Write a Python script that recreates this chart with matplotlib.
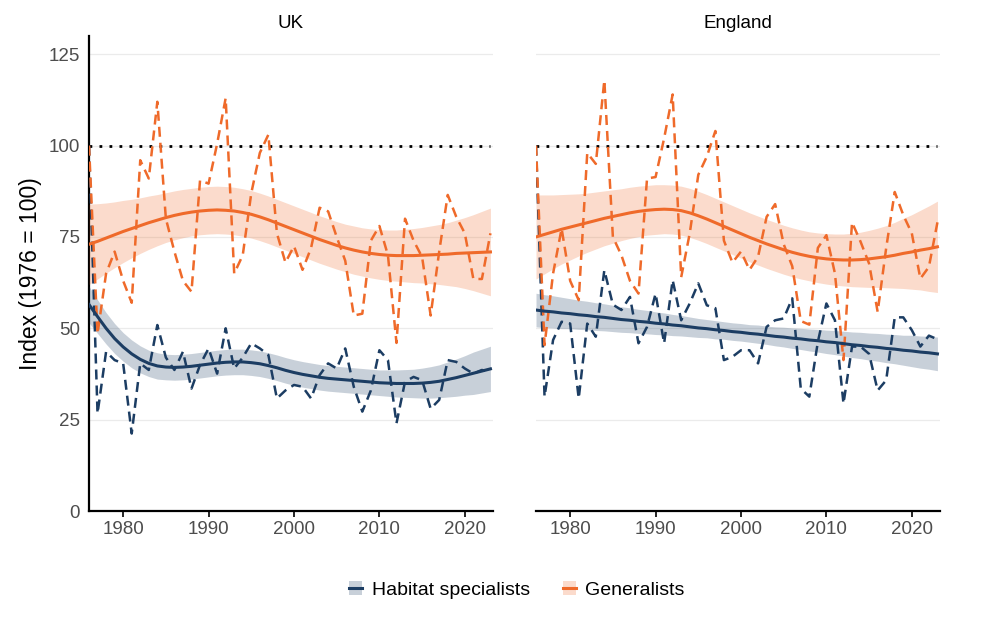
import matplotlib
matplotlib.use('Agg')
from matplotlib import pyplot as plt
from matplotlib.patches import Patch
from matplotlib.lines import Line2D
from matplotlib.legend_handler import HandlerTuple

plt.rcParams['font.family'] = ['Liberation Sans', 'DejaVu Sans']

years = list(range(1976, 2024))

# yearly index values (1976 = 100)
uk_spec = [100, 26.7, 43.6, 41.3, 40.4, 21.2, 40.4, 38.6, 50.9, 42.0,
           38.6, 43.6, 33.5, 40.0, 44.5, 37.6, 50.0, 39.0, 42.0, 45.9,
           44.5, 42.7, 30.8, 33.0, 34.5, 34.0, 30.8, 37.2, 40.4, 39.0,
           44.5, 34.0, 27.2, 33.0, 44.0, 41.3, 24.0, 35.4, 36.7, 35.8,
           28.0, 30.4, 41.3, 40.8, 39.0, 37.6, 38.6, 38.0]
uk_gen = [100, 48.5, 65, 71, 63, 57, 96, 91, 112, 80,
          71, 63, 60, 90.5, 89.6, 100.5, 113, 65, 70, 87,
          98, 103, 76, 68, 72.5, 66, 72, 83, 82, 75,
          68.5, 53.5, 54, 74, 78, 70, 46, 80, 74, 69.5,
          53.5, 71, 86.5, 80.5, 76, 63.5, 63.5, 76]
eng_spec = [100, 31.3, 46.8, 51.8, 51.3, 30.8, 51.3, 47.7, 65.9, 56.5,
            55, 58.6, 45.9, 50.4, 59.5, 45.9, 63.2, 52.2, 56.8, 62.3,
            56.3, 55.5, 41.3, 42.2, 44, 44, 40.4, 50.4, 52.2, 52.7,
            58.2, 33.5, 31.3, 46.3, 56.8, 52.2, 29.4, 45, 45, 43,
            33, 35.8, 53, 53, 49.5, 45, 48, 47]
eng_gen = [100, 45.4, 65, 77.3, 63, 57.7, 98, 95, 117.9, 75,
           70, 63, 59.5, 91, 91.4, 102, 114, 64, 76, 92,
           97, 104, 74, 68, 71, 66, 69.6, 80.5, 84, 73,
           67, 52, 51, 72, 75.5, 65, 41.3, 79, 73.7, 67.7,
           54.5, 72, 87.3, 81, 76, 63.6, 66.8, 79]

# fitted trends and half-width of the confidence band
uk_spec_fit = [56.5, 53.2, 50.0, 47.2, 44.9, 43.0, 41.5, 40.4, 39.7, 39.4,
               39.3, 39.4, 39.6, 39.9, 40.2, 40.5, 40.7, 40.8, 40.8, 40.6,
               40.3, 39.8, 39.2, 38.5, 37.9, 37.4, 37.0, 36.6, 36.3, 36.1,
               35.9, 35.7, 35.5, 35.3, 35.1, 35.0, 34.9, 34.9, 34.9, 35.0,
               35.2, 35.5, 36.0, 36.5, 37.1, 37.7, 38.3, 38.9]
uk_spec_se = [5.0, 4.6, 4.3, 4.1, 3.9, 3.8, 3.7, 3.6, 3.6, 3.5,
              3.5, 3.5, 3.5, 3.5, 3.5, 3.5, 3.5, 3.5, 3.5, 3.5,
              3.5, 3.5, 3.5, 3.5, 3.5, 3.5, 3.5, 3.5, 3.5, 3.5,
              3.5, 3.5, 3.5, 3.5, 3.5, 3.6, 3.7, 3.8, 3.9, 4.1,
              4.3, 4.5, 4.8, 5.1, 5.4, 5.8, 6.0, 6.2]
uk_gen_fit = [73.0, 73.8, 74.7, 75.6, 76.5, 77.3, 78.1, 78.9, 79.6, 80.3,
              80.9, 81.4, 81.8, 82.1, 82.3, 82.4, 82.3, 82.1, 81.7, 81.2,
              80.5, 79.7, 78.8, 77.9, 77.0, 76.1, 75.2, 74.3, 73.5, 72.7,
              72.0, 71.4, 70.9, 70.5, 70.2, 70.0, 69.9, 69.9, 69.9, 70.0,
              70.1, 70.2, 70.3, 70.5, 70.6, 70.7, 70.8, 70.9]
uk_gen_se = [11.0, 10.3, 9.6, 9.0, 8.5, 8.0, 7.6, 7.3, 7.0, 6.8,
             6.7, 6.6, 6.5, 6.5, 6.5, 6.5, 6.5, 6.5, 6.5, 6.5,
             6.5, 6.5, 6.5, 6.5, 6.5, 6.5, 6.5, 6.5, 6.5, 6.5,
             6.5, 6.6, 6.6, 6.7, 6.8, 6.9, 7.0, 7.2, 7.4, 7.6,
             7.9, 8.2, 8.6, 9.1, 9.7, 10.4, 11.2, 12.0]
eng_spec_fit = [55.0, 54.7, 54.5, 54.2, 54.0, 53.7, 53.5, 53.2, 53.0, 52.7,
                52.4, 52.2, 51.9, 51.7, 51.4, 51.2, 50.9, 50.7, 50.4, 50.1,
                49.9, 49.6, 49.4, 49.1, 48.9, 48.6, 48.4, 48.1, 47.8, 47.6,
                47.3, 47.1, 46.8, 46.6, 46.3, 46.1, 45.8, 45.5, 45.3, 45.0,
                44.8, 44.5, 44.3, 44.0, 43.8, 43.5, 43.3, 43.0]
eng_spec_se = [4.6, 4.5, 4.4, 4.3, 4.1, 4.0, 3.9, 3.8, 3.7, 3.6,
               3.5, 3.4, 3.3, 3.2, 3.1, 3.0, 2.9, 2.8, 2.7, 2.6,
               2.5, 2.5, 2.4, 2.4, 2.4, 2.4, 2.5, 2.5, 2.6, 2.7,
               2.8, 2.9, 3.0, 3.1, 3.2, 3.3, 3.4, 3.5, 3.6, 3.7,
               3.8, 3.9, 4.0, 4.1, 4.3, 4.4, 4.5, 4.6]
eng_gen_fit = [75.0, 75.7, 76.4, 77.1, 77.7, 78.3, 78.9, 79.5, 80.1, 80.6,
               81.1, 81.6, 82.0, 82.3, 82.5, 82.6, 82.5, 82.2, 81.6, 80.8,
               79.9, 78.9, 77.9, 76.9, 75.9, 74.9, 74.0, 73.1, 72.3, 71.5,
               70.8, 70.2, 69.7, 69.3, 69.0, 68.8, 68.7, 68.7, 68.8, 69.0,
               69.3, 69.6, 70.0, 70.5, 70.9, 71.4, 71.8, 72.3]
eng_gen_se = [11.5, 10.8, 10.1, 9.5, 9.0, 8.5, 8.1, 7.8, 7.5, 7.3,
              7.1, 7.0, 6.9, 6.8, 6.8, 6.7, 6.7, 6.7, 6.7, 6.7,
              6.7, 6.7, 6.7, 6.7, 6.7, 6.7, 6.7, 6.7, 6.7, 6.7,
              6.7, 6.7, 6.7, 6.8, 6.9, 7.0, 7.1, 7.3, 7.5, 7.8,
              8.1, 8.5, 9.0, 9.6, 10.2, 10.9, 11.7, 12.5]

panels = ['UK', 'England']
series_labels = ['Habitat specialists', 'Generalists']
yticks = [0, 25, 50, 75, 100, 125]
xticks = [1980, 1990, 2000, 2010, 2020]

blue = '#1c3d63'
orange = '#ef6a2a'

panel_data = [
    [(uk_spec, uk_spec_fit, uk_spec_se), (uk_gen, uk_gen_fit, uk_gen_se)],
    [(eng_spec, eng_spec_fit, eng_spec_se), (eng_gen, eng_gen_fit, eng_gen_se)],
]

fig = plt.figure(figsize=(10, 6.26), dpi=100)
ax1 = fig.add_axes([0.089, 0.1837, 0.404, 0.7588])
ax2 = fig.add_axes([0.536, 0.1837, 0.404, 0.7588], sharey=ax1)

for ax, name, data in zip([ax1, ax2], panels, panel_data):
    ax.set_xlim(1976, 2023.3)
    ax.set_ylim(0, 130)
    ax.set_yticks(yticks)
    ax.set_xticks(xticks)
    ax.grid(axis='y', color='#ebebeb', linewidth=0.9)
    ax.set_axisbelow(True)
    for s in ['top', 'right']:
        ax.spines[s].set_visible(False)
    ax.spines['bottom'].set_linewidth(1.6)
    ax.spines['left'].set_linewidth(1.6)
    ax.tick_params(axis='x', length=4, width=1.2, pad=3, labelsize=13.5, labelcolor='#4d4d4d')
    ax.tick_params(axis='y', length=0, pad=6.5, labelsize=13.5, labelcolor='#4d4d4d')
    ax.set_title(name, fontsize=13.5, pad=6)

    ax.plot([years[0], years[-1]], [100, 100], color='black', linewidth=2,
            linestyle=(0, (1, 2.6)), zorder=2)

    for (vals, fit, se), col in zip(data, [blue, orange]):
        lo = [f - e for f, e in zip(fit, se)]
        hi = [f + e for f, e in zip(fit, se)]
        ax.fill_between(years, lo, hi, color=col, alpha=0.24, linewidth=0, zorder=3)
        ax.plot(years, vals, color=col, linewidth=1.8, linestyle=(0, (4, 2.4)), zorder=4)
        ax.plot(years, fit, color=col, linewidth=2.2, zorder=5)

ax2.spines['left'].set_visible(False)
ax2.tick_params(axis='y', labelleft=False)
ax1.set_ylabel('Index (1976 = 100)', fontsize=16.5, labelpad=5)

handles = []
for col in [blue, orange]:
    handles.append((Patch(facecolor=col, alpha=0.24, edgecolor='none'),
                    Line2D([], [], color=col, linewidth=2.2)))
fig.legend(handles, series_labels, loc='center', bbox_to_anchor=(0.517, 0.058),
           ncol=2, frameon=False, fontsize=14, handlelength=0.65, handleheight=0.75,
           handletextpad=0.5, columnspacing=1.7,
           handler_map={tuple: HandlerTuple(ndivide=1)})

plt.savefig('out.png', dpi=100)
